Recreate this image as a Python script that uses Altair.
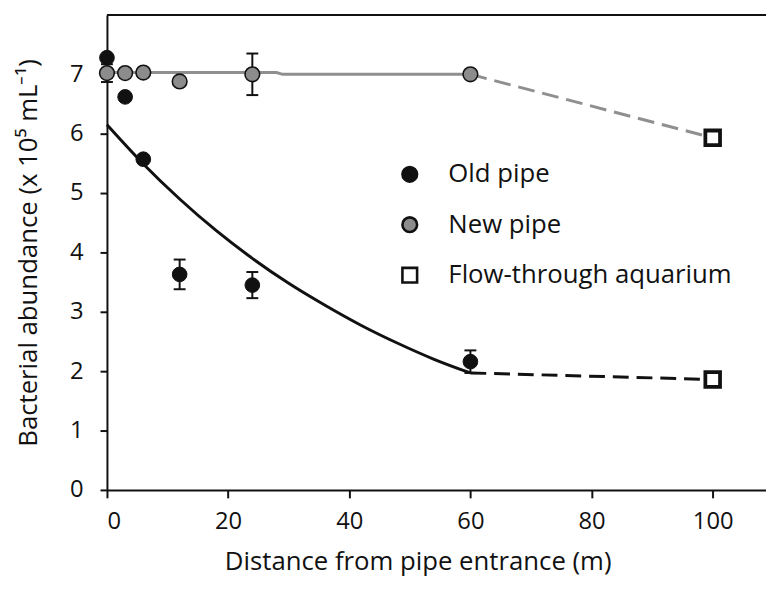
import altair as alt
import pandas as pd

series = ["Old pipe", "New pipe", "Flow-through aquarium"]

old_x = [0, 3, 6, 12, 24, 60]
old_y = [7.28, 6.62, 5.57, 3.63, 3.45, 2.16]
old_err = [0.0, 0.0, 0.0, 0.25, 0.22, 0.19]

new_x = [0, 3, 6, 12, 24, 60]
new_y = [7.02, 7.02, 7.03, 6.88, 7.00, 7.00]
new_err = [0.15, 0.0, 0.0, 0.0, 0.35, 0.0]

aq_x = [100, 100]
aq_y = [5.93, 1.86]

fit_x = [0, 6, 12, 18, 24, 30, 36, 42, 48, 54, 60]
fit_y = [6.15, 5.49, 4.90, 4.37, 3.90, 3.48, 3.11, 2.77, 2.47, 2.20, 1.97]

new_line_x = [0, 28, 29, 60]
new_line_y = [7.03, 7.03, 7.00, 7.00]

old_dash_x = [60, 100]
old_dash_y = [1.97, 1.86]
new_dash_x = [60, 100]
new_dash_y = [7.00, 5.93]

x_ticks = [0, 20, 40, 60, 80, 100]
y_ticks = [0, 1, 2, 3, 4, 5, 6, 7]

FONT = "Open Sans"
BLACK = "#111111"
GREY_FILL = "#8c8c8c"
GREY_LINE = "#8f8f8f"
stroke_widths = {"Old pipe": 1.0, "New pipe": 1.6, "Flow-through aquarium": 3.8}

W, H = 666, 480
xscale = alt.Scale(domain=[0, 108.8], nice=False, zero=False)
yscale = alt.Scale(domain=[0, 8], nice=False)

pts = pd.DataFrame(
    {
        "x": old_x + new_x + aq_x,
        "y": old_y + new_y + aq_y,
        "series": [series[0]] * len(old_x) + [series[1]] * len(new_x) + [series[2]] * len(aq_x),
    }
)
pts["sw"] = pts["series"].map(stroke_widths)

err = pd.DataFrame(
    {
        "x": old_x + new_x,
        "lo": [a - e for a, e in zip(old_y, old_err)] + [a - e for a, e in zip(new_y, new_err)],
        "hi": [a + e for a, e in zip(old_y, old_err)] + [a + e for a, e in zip(new_y, new_err)],
        "e": old_err + new_err,
    }
)
err = err[err["e"] > 0]

X = alt.X(
    "x:Q",
    scale=xscale,
    axis=alt.Axis(
        values=x_ticks,
        format="d",
        title="Distance from pipe entrance (m)",
        grid=False,
        tickSize=8,
        labelPadding=12,
        titleX=314,
        titleY=72,
        titleAlign="center",
        titleBaseline="middle",
    ),
)
Y = alt.Y(
    "y:Q",
    scale=yscale,
    axis=alt.Axis(
        values=y_ticks,
        format="d",
        title="Bacterial abundance (x 10⁵ mL⁻¹)",
        grid=False,
        tickSize=7,
        labelPadding=17,
        titleX=-79,
        titleY=240,
        titleAngle=270,
        titleAlign="center",
        titleBaseline="middle",
    ),
)

fit = (
    alt.Chart(pd.DataFrame({"x": fit_x, "y": fit_y}))
    .mark_line(color=BLACK, strokeWidth=3, interpolate="monotone")
    .encode(x=X, y=Y)
)
new_line = (
    alt.Chart(pd.DataFrame({"x": new_line_x, "y": new_line_y}))
    .mark_line(color=GREY_LINE, strokeWidth=3)
    .encode(x="x:Q", y="y:Q")
)
old_dash = (
    alt.Chart(pd.DataFrame({"x": old_dash_x, "y": old_dash_y}))
    .mark_line(color=BLACK, strokeWidth=3, strokeDash=[16, 8])
    .encode(x="x:Q", y="y:Q")
)
new_dash = (
    alt.Chart(pd.DataFrame({"x": new_dash_x, "y": new_dash_y}))
    .mark_line(color=GREY_LINE, strokeWidth=3, strokeDash=[17, 8])
    .encode(x="x:Q", y="y:Q")
)

err_base = alt.Chart(err)
err_rule = err_base.mark_rule(color=BLACK, strokeWidth=2).encode(x="x:Q", y="lo:Q", y2="hi:Q")
err_lo = err_base.mark_tick(color=BLACK, orient="horizontal", size=12, thickness=2, opacity=1).encode(x="x:Q", y="lo:Q")
err_hi = err_base.mark_tick(color=BLACK, orient="horizontal", size=12, thickness=2, opacity=1).encode(x="x:Q", y="hi:Q")

leg = alt.Legend(
    title=None,
    orient="none",
    legendX=293,
    legendY=148,
    labelFont=FONT,
    labelFontSize=26,
    labelColor=BLACK,
    labelLimit=400,
    labelOffset=26,
    rowPadding=25,
    symbolSize=220,
    symbolStrokeColor=BLACK,
    symbolStrokeWidth=2.6,
    symbolOpacity=1,
    padding=0,
)

points = (
    alt.Chart(pts)
    .mark_point(filled=False, opacity=1, size=220)
    .encode(
        x="x:Q",
        y="y:Q",
        fill=alt.Fill("series:N", scale=alt.Scale(domain=series, range=[BLACK, GREY_FILL, "#ffffff"]), legend=leg),
        shape=alt.Shape("series:N", scale=alt.Scale(domain=series, range=["circle", "circle", "square"]), legend=leg),
        stroke=alt.Stroke("series:N", scale=alt.Scale(domain=series, range=[BLACK, BLACK, BLACK]), legend=leg),
        strokeWidth=alt.StrokeWidth("sw:Q", scale=None, legend=None),
    )
)

top_border = alt.Chart(pd.DataFrame({"a": [0]})).mark_rule(color=BLACK, strokeWidth=2).encode(
    x=alt.value(0), x2=alt.value(W), y=alt.value(0)
)

chart = (
    alt.layer(fit, new_line, old_dash, new_dash, err_rule, err_lo, err_hi, points, top_border)
    .properties(width=W, height=H, padding={"left": 100, "top": 4, "right": 0, "bottom": 86}, autosize="none")
    .configure_view(stroke=None)
    .configure_axis(
        domainColor=BLACK,
        domainWidth=2,
        tickColor=BLACK,
        tickWidth=2,
        labelFont=FONT,
        labelFontSize=24,
        labelColor=BLACK,
        titleFont=FONT,
        titleFontSize=26,
        titleFontWeight="normal",
        titleColor=BLACK,
    )
)

chart.save("out.html", embed_options={"renderer": "svg", "actions": False})
